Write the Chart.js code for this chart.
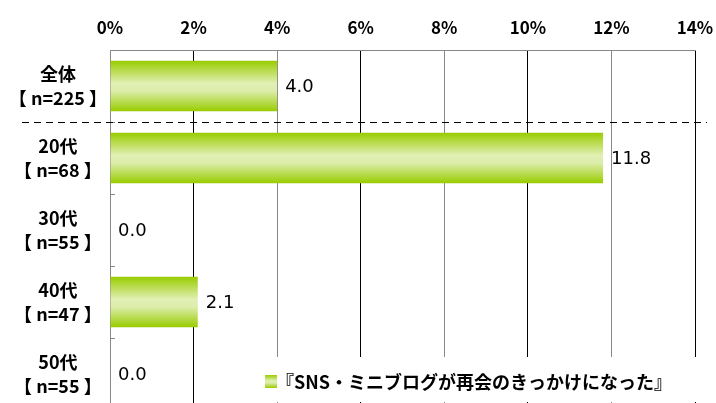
<!DOCTYPE html>
<html>
<head>
<meta charset="utf-8">
<script src="https://cdn.jsdelivr.net/npm/chart.js@4"></script>
<style>
  html, body { margin: 0; padding: 0; background: #fff; overflow: hidden; }
  #wrap { position: relative; width: 716px; height: 410px; }
</style>
</head>
<body>
<div id="wrap"><canvas id="barChart"></canvas></div>
<script>
const categories = [['全体', '【 n=225 】'], ['20代', '【 n=68 】'], ['30代', '【 n=55 】'], ['40代', '【 n=47 】'], ['50代', '【 n=55 】']];
const values = [4.0, 11.8, 0.0, 2.1, 0.0];
const tickValues = [0, 2, 4, 6, 8, 10, 12, 14];
const seriesName = '『SNS・ミニブログが再会のきっかけになった』';

const jpFont = "'Noto Sans CJK JP', 'Noto Sans', sans-serif";
const BAR_PCT = 0.7;

function greenGradient(ctx, top, bottom) {
  const g = ctx.createLinearGradient(0, top, 0, bottom);
  g.addColorStop(0, '#99cc00');
  g.addColorStop(0.45, '#e2f0b4');
  g.addColorStop(0.6, '#dcedaa');
  g.addColorStop(1, '#99cc00');
  return g;
}

// bar fill: vertical gradient computed from the category scale
function barFill(context) {
  const chart = context.chart;
  const ys = chart.scales.y;
  if (!chart.chartArea || !ys) return '#b5d94a';
  const center = ys.getPixelForValue(context.dataIndex);
  const half = (ys.height / categories.length) * BAR_PCT / 2;
  return greenGradient(chart.ctx, center - half, center + half);
}

// value labels + dashed separator + small axis marks + legend
const extras = {
  id: 'extras',
  afterDatasetsDraw(chart) {
    const ctx = chart.ctx;
    const meta = chart.getDatasetMeta(0);
    const xs = chart.scales.x;
    const ys = chart.scales.y;
    const area = chart.chartArea;
    ctx.save();
    ctx.fillStyle = '#000';
    ctx.font = "18px 'DejaVu Sans', sans-serif";
    ctx.textBaseline = 'middle';
    ctx.textAlign = 'left';
    meta.data.forEach((bar, i) => {
      ctx.fillText(values[i].toFixed(1), Math.max(bar.x, xs.getPixelForValue(0)) + 8, bar.y + 1);
    });

    // little marks on the category axis
    ctx.strokeStyle = '#888';
    ctx.lineWidth = 1;
    for (let i = 1; i < categories.length; i++) {
      const y = Math.round((ys.getPixelForValue(i - 1) + ys.getPixelForValue(i)) / 2) + 0.5;
      ctx.beginPath();
      ctx.moveTo(area.left, y);
      ctx.lineTo(area.left + 5, y);
      ctx.stroke();
    }

    // dashed line between 全体 and 20代
    const yLine = Math.round((ys.getPixelForValue(0) + ys.getPixelForValue(1)) / 2) + 0.5;
    ctx.strokeStyle = '#000';
    ctx.setLineDash([7, 5]);
    ctx.beginPath();
    ctx.moveTo(22, yLine);
    ctx.lineTo(area.right + 12, yLine);
    ctx.stroke();
    ctx.setLineDash([]);
    ctx.restore();
  },
  afterDraw(chart) {
    const ctx = chart.ctx;
    const area = chart.chartArea;
    const boxLeft = area.left + 150;
    const boxTop = 357;
    ctx.save();
    ctx.fillStyle = '#fff';
    ctx.fillRect(boxLeft, boxTop, area.right + 10 - boxLeft, 45);
    ctx.fillStyle = greenGradient(ctx, 375, 388);
    ctx.fillRect(boxLeft + 5, 375, 12, 13);
    ctx.fillStyle = '#000';
    ctx.font = 'bold 18px ' + jpFont;
    ctx.textBaseline = 'middle';
    ctx.textAlign = 'left';
    ctx.fillText(seriesName, boxLeft + 16, 382);
    ctx.restore();
  }
};

const chartCtx = document.getElementById('barChart').getContext('2d');
new Chart(chartCtx, {
  type: 'bar',
  data: {
    labels: categories,
    datasets: [{
      label: seriesName,
      data: values,
      backgroundColor: barFill,
      borderWidth: 0,
      categoryPercentage: 1,
      barPercentage: BAR_PCT
    }]
  },
  options: {
    indexAxis: 'y',
    responsive: true,
    maintainAspectRatio: false,
    animation: false,
    layout: { padding: { top: 0, left: 0, right: 21, bottom: 0 } },
    plugins: {
      legend: { display: false },
      tooltip: { enabled: false }
    },
    scales: {
      x: {
        position: 'top',
        min: 0,
        max: 14,
        afterBuildTicks(scale) {
          scale.ticks = tickValues.map(v => ({ value: v }));
        },
        afterFit(scale) {
          scale.height = 50;
          scale.paddingLeft = 0;
          scale.paddingRight = 0;
        },
        grid: {
          drawTicks: false,
          color: ctx => (ctx.index % 2 === 1 ? '#000' : '#888'),
          lineWidth: 1
        },
        border: { color: '#888' },
        ticks: {
          padding: 12,
          color: '#000',
          font: { family: jpFont, size: 17, weight: 'bold' },
          callback: v => v + '%'
        }
      },
      y: {
        afterFit(scale) {
          scale.width = 110;
          scale.paddingTop = 0;
          scale.paddingBottom = 0;
        },
        grid: { display: false },
        border: { color: '#888' },
        ticks: {
          crossAlign: 'center',
          padding: -5,
          color: '#000',
          font: { family: jpFont, size: 18, weight: 'bold', lineHeight: 1.35 }
        }
      }
    }
  },
  plugins: [extras]
});
</script>
</body>
</html>
